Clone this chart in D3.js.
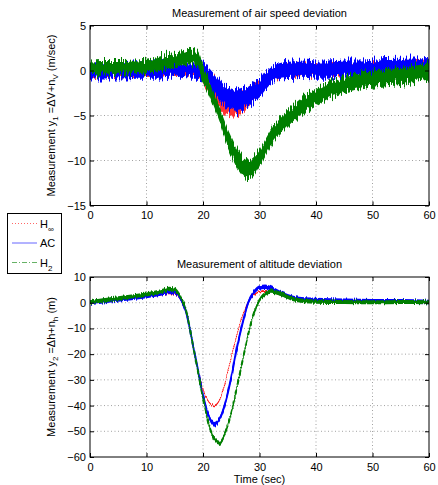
<!DOCTYPE html>
<html>
<head>
<meta charset="utf-8">
<script src="https://cdn.jsdelivr.net/npm/d3@7"></script>
<style>
  body { margin: 0; background: #fff; }
  text { font-family: "Liberation Sans", Arial, sans-serif; }
</style>
</head>
<body>
<svg id="fig" width="438" height="485"></svg>
<script>
// ---- data ----
// top panel: air speed deviation (m/sec)
const tTop = [0,2,4,6,8,10,12,14,16,18,19,20,21,22,23,24,25,26,27,28,29,30,31,32,33,34,36,38,40,42,45,48,50,55,60];
const hinfTop = [-0.1,-0.1,-0.1,-0.1,0,0,0,0.1,0.1,0,0,-0.4,-1.2,-2.1,-3.0,-3.6,-3.9,-3.9,-3.5,-3.0,-2.4,-2.0,-1.2,-0.6,-0.2,0,0.1,0.2,0.1,0.1,0.2,0.2,0.3,0.4,0.5];
const acTop   = [-0.1,-0.1,-0.1,-0.1,0,0,0,0.1,0.1,0,0,0,-0.7,-1.5,-2.3,-2.9,-3.1,-3.3,-3.1,-2.9,-2.4,-2.0,-1.2,-0.6,-0.2,0,0.1,0.2,0.1,0.1,0.2,0.2,0.3,0.4,0.5];
const h2Top   = [0.3,0.35,0.35,0.35,0.4,0.5,0.7,1.0,1.3,1.5,1.3,-0.4,-1.8,-3.4,-5.1,-6.9,-8.4,-9.7,-10.6,-11.0,-10.6,-9.7,-8.6,-7.5,-6.6,-5.9,-4.7,-3.7,-3.0,-2.3,-1.6,-1.1,-0.9,-0.6,-0.1];
// noise band half widths (measurement noise seen as thick bands)
const hinfTopNoise = [0.5,0.5,0.5,0.5,0.5,0.5,0.5,0.5,0.5,0.5,0.5,0.8,1.1,1.2,1.2,1.2,1.2,1.2,1.2,1.0,0.8,0.6,0.5,0.5,0.5,0.5,0.5,0.5,0.5,0.5,0.5,0.5,0.5,0.5,0.5];
const acTopNoise   = [0.8,0.8,0.8,0.8,0.8,0.8,0.8,0.8,0.8,0.8,0.8,0.9,1.0,1.1,1.1,1.1,1.2,1.2,1.2,1.1,1.1,1.0,1.0,0.9,0.9,0.9,0.9,0.9,0.9,0.9,0.9,0.9,0.9,0.9,0.9];
const h2TopNoise   = [0.7,0.7,0.7,0.7,0.7,0.7,0.8,0.8,0.8,0.8,0.8,0.9,0.9,0.9,0.9,1.0,1.0,1.0,1.0,1.0,1.0,0.9,0.9,0.9,0.9,0.9,0.9,0.9,0.9,0.9,0.9,0.9,0.9,0.9,0.9];

// bottom panel: altitude deviation (m)
const tBot = [0,2,4,6,8,10,12,13,14,15,16,17,18,19,20,21,22,23,24,25,26,27,28,29,30,31,32,33,34,36,38,40,45,50,55,60];
const hinfBot = [0,0.4,1.0,1.5,1.9,2.3,2.9,3.3,3.6,3.4,1.3,-3.8,-14,-25,-33.5,-38.5,-40,-37.5,-30.5,-21,-12.5,-5,0.3,3.0,4.3,4.6,4.3,3.6,2.8,1.6,1.1,0.9,0.6,0.5,0.4,0.3];
const acBot   = [0,0.5,1.1,1.6,2.1,2.6,3.4,3.9,4.4,4.2,1.8,-3.5,-14,-25,-36,-44,-47.3,-45,-38.5,-29,-17.5,-8,0,4,5.9,6.2,5.6,4.5,3.4,1.8,1.2,1.0,0.7,0.5,0.5,0.3];
const h2Bot   = [0.2,0.8,1.4,2.0,2.6,3.2,4.1,4.7,5.4,5.0,2.4,-3.0,-14,-25.5,-37,-47,-53,-54.5,-50,-43,-33,-22.5,-12.4,-4,1.0,3.5,4.3,4.0,3.2,1.4,0.6,0.4,0.3,0.2,0.3,0.2];
const hinfBotNoise = 0.3;
const acBotNoise   = 0.9;
const h2BotNoise   = 0.8;

const xTicks = [0,10,20,30,40,50,60];
const yTicksTop = [5,0,-5,-10,-15];
const yTicksBot = [10,0,-10,-20,-30,-40,-50,-60];

const colors = {hinf: "#ff0000", ac: "#0000ff", h2: "#007f00"};

// ---- drawing ----
const svg = d3.select("#fig");
const left = 90, right = 429;

// rough vertical jitter so the thick bands look like noisy sensor traces
const defs = svg.append("defs");
function jitterFilter(id, freq, scale, seed) {
  const f = defs.append("filter").attr("id", id)
    .attr("filterUnits", "userSpaceOnUse")
    .attr("x", 0).attr("y", 0).attr("width", 438).attr("height", 485);
  f.append("feTurbulence").attr("type", "fractalNoise")
    .attr("baseFrequency", freq).attr("numOctaves", 2).attr("seed", seed).attr("result", "n");
  f.append("feColorMatrix").attr("in", "n").attr("type", "matrix")
    .attr("values", "1 0 0 0 0  0 1 0 0 0  0 0 1 0 0  0 0 0 0 0.5").attr("result", "n2");
  f.append("feDisplacementMap").attr("in", "SourceGraphic").attr("in2", "n2")
    .attr("scale", scale).attr("xChannelSelector", "A").attr("yChannelSelector", "R");
}
jitterFilter("jitA", "0.9 0.03", 16, 3);
jitterFilter("jitB", "0.9 0.03", 16, 11);
jitterFilter("jitC", "0.9 0.03", 16, 23);
jitterFilter("jitS", "0.9 0.03", 5, 7);

function panel(cfg) {
  const x = d3.scaleLinear().domain([0, 60]).range([left, right]);
  const y = d3.scaleLinear().domain(cfg.ydom).range([cfg.bottom, cfg.top]);
  const g = svg.append("g");

  // grid
  g.selectAll(".gx").data(xTicks.slice(1, -1)).enter().append("line")
    .attr("x1", d => x(d)).attr("x2", d => x(d))
    .attr("y1", cfg.top).attr("y2", cfg.bottom)
    .attr("stroke", "#8a8a8a").attr("stroke-width", 0.8).attr("stroke-dasharray", "1,2.5");
  g.selectAll(".gy").data(cfg.yticks.slice(1, -1)).enter().append("line")
    .attr("y1", d => y(d)).attr("y2", d => y(d))
    .attr("x1", left).attr("x2", right)
    .attr("stroke", "#8a8a8a").attr("stroke-width", 0.8).attr("stroke-dasharray", "1,2.5");

  const clipId = "clip" + cfg.id;
  defs.append("clipPath").attr("id", clipId).append("rect")
    .attr("x", left).attr("y", cfg.top).attr("width", right - left).attr("height", cfg.bottom - cfg.top);
  const plot = g.append("g").attr("clip-path", "url(#" + clipId + ")");

  cfg.series.forEach(s => {
    const pts = cfg.t.map((t, i) => ({t: t, v: s.values[i],
      n: Array.isArray(s.noise) ? s.noise[i] : s.noise}));
    const area = d3.area().curve(d3.curveMonotoneX)
      .x(d => x(d.t)).y0(d => y(d.v - d.n)).y1(d => y(d.v + d.n));
    const line = d3.line().curve(d3.curveMonotoneX)
      .x(d => x(d.t)).y(d => y(d.v));
    const sg = plot.append("g").attr("filter", "url(#" + s.filter + ")");
    sg.append("path").datum(pts).attr("d", area)
      .attr("fill", s.color).attr("opacity", s.fillOpacity);
    sg.append("path").datum(pts).attr("d", line)
      .attr("fill", "none").attr("stroke", s.color)
      .attr("stroke-width", s.width).attr("stroke-dasharray", s.dash);
  });

  // axes (MATLAB style: ticks inside, box)
  const ax = d3.axisBottom(x).tickValues(xTicks).tickSizeInner(-4).tickSizeOuter(0).tickPadding(6);
  const axTop = d3.axisTop(x).tickValues(xTicks).tickSizeInner(-4).tickSizeOuter(0).tickFormat("");
  const ay = d3.axisLeft(y).tickValues(cfg.yticks).tickSizeInner(-4).tickSizeOuter(0).tickPadding(4)
    .tickFormat(d => d < 0 ? "\u2212" + Math.abs(d) : d);
  const ayR = d3.axisRight(y).tickValues(cfg.yticks).tickSizeInner(-4).tickSizeOuter(0).tickFormat("");

  [[ax, "translate(0," + cfg.bottom + ")"], [axTop, "translate(0," + cfg.top + ")"],
   [ay, "translate(" + left + ",0)"], [ayR, "translate(" + right + ",0)"]].forEach(a => {
    const ag = g.append("g").attr("transform", a[1]).call(a[0]);
    ag.select(".domain").remove();
    ag.selectAll("line").attr("stroke", "#000");
    ag.selectAll("text").attr("fill", "#000").style("font-size", "11px")
      .style("font-family", "'Liberation Sans', Arial, sans-serif");
  });
  g.append("rect").attr("x", left).attr("y", cfg.top)
    .attr("width", right - left).attr("height", cfg.bottom - cfg.top)
    .attr("fill", "none").attr("stroke", "#000").attr("stroke-width", 1);

  // title
  g.append("text").text(cfg.title)
    .attr("x", (left + right) / 2).attr("y", cfg.top - 9)
    .attr("text-anchor", "middle").style("font-size", "11px");

  // y label with subscripts
  const yl = g.append("text")
    .attr("transform", "translate(55," + (cfg.top + cfg.bottom) / 2 + ") rotate(-90)")
    .attr("text-anchor", "middle").style("font-size", "11px");
  cfg.ylabel.forEach(p => {
    yl.append("tspan").text(p.s).attr("dy", p.dy || 0)
      .style("font-size", p.sub ? "8px" : "11px");
  });
  return {x: x, y: y};
}

const styles = {
  hinf: {color: colors.hinf, width: 1, dash: "1,1.5"},
  ac:   {color: colors.ac,   width: 1.2, dash: null},
  h2:   {color: colors.h2,   width: 1.2, dash: "5,2,1,2"}
};

panel({
  id: "top", top: 25.5, bottom: 205.5, ydom: [-15, 5], yticks: yTicksTop, t: tTop,
  title: "Measurement of air speed deviation",
  ylabel: [{s: "Measurement y"}, {s: "1", sub: true, dy: 3}, {s: " =\u0394V+n", dy: -3},
           {s: "V", sub: true, dy: 3}, {s: "  (m/sec)", dy: -3}],
  series: [
    Object.assign({values: hinfTop, noise: hinfTopNoise, fillOpacity: 0.8, filter: "jitA"}, styles.hinf),
    Object.assign({values: acTop, noise: acTopNoise, fillOpacity: 1, filter: "jitB"}, styles.ac),
    Object.assign({values: h2Top, noise: h2TopNoise, fillOpacity: 1, filter: "jitC"}, styles.h2)
  ]
});

panel({
  id: "bot", top: 277, bottom: 457, ydom: [-60, 10], yticks: yTicksBot, t: tBot,
  title: "Measurement of altitude deviation",
  ylabel: [{s: "Measurement y"}, {s: "2", sub: true, dy: 3}, {s: " =\u0394h+n", dy: -3},
           {s: "h", sub: true, dy: 3}, {s: "  (m)", dy: -3}],
  series: [
    Object.assign({values: hinfBot, noise: hinfBotNoise, fillOpacity: 0.9, filter: "jitS"}, styles.hinf),
    Object.assign({values: acBot, noise: acBotNoise, fillOpacity: 1, filter: "jitS"}, styles.ac, {width: 2}),
    Object.assign({values: h2Bot, noise: h2BotNoise, fillOpacity: 1, filter: "jitS"}, styles.h2, {width: 2})
  ]
});

// x label
svg.append("text").text("Time (sec)")
  .attr("x", (left + right) / 2).attr("y", 483)
  .attr("text-anchor", "middle").style("font-size", "11px");

// legend
const legendItems = [
  {key: "hinf", label: "H", sub: "\u221e", dash: "1,2"},
  {key: "ac", label: "AC", sub: null, dash: null},
  {key: "h2", label: "H", sub: "2", dash: "5,2,1,2"}
];
const lg = svg.append("g");
lg.append("rect").attr("x", 7.5).attr("y", 213.5).attr("width", 54).attr("height", 60)
  .attr("fill", "#fff").attr("stroke", "#000").attr("stroke-width", 1);
legendItems.forEach((d, i) => {
  const yy = 223.5 + i * 19.5;
  lg.append("line").attr("x1", 12).attr("x2", 37).attr("y1", yy).attr("y2", yy)
    .attr("stroke", colors[d.key]).attr("stroke-width", 1)
    .attr("stroke-dasharray", d.dash).attr("stroke-opacity", 0.6);
  const t = lg.append("text").attr("x", 40).attr("y", yy + 4).style("font-size", "11px");
  t.append("tspan").text(d.label);
  if (d.sub) t.append("tspan").text(d.sub).attr("dy", 4).style("font-size", "8px");
});
</script>
</body>
</html>
